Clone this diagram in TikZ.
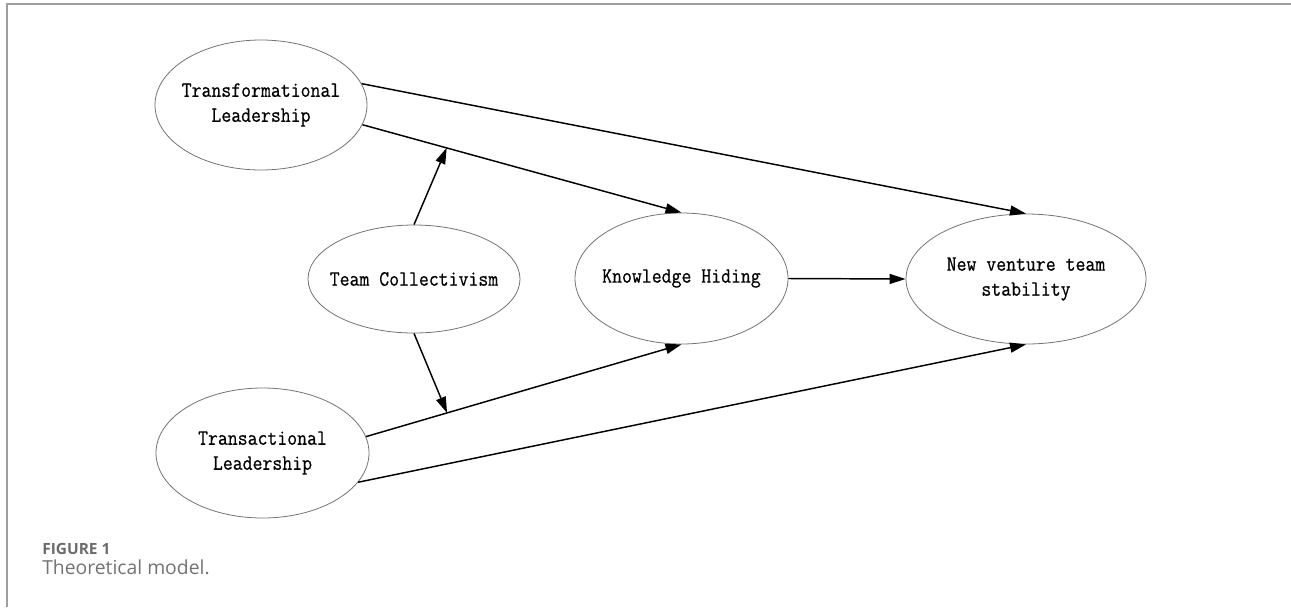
\documentclass[tikz,border=0pt]{standalone}
\usepackage{fontspec}
\setmainfont{Open Sans}
\newfontfamily\monofont[FakeStretch=0.88,FakeBold=0.6]{Latin Modern Mono}
\usetikzlibrary{arrows.meta,shapes.geometric}
\begin{document}
\begin{tikzpicture}[x=0.75pt,y=-0.75pt,
  oval/.style={ellipse, draw=black!55, line width=0.6pt, inner sep=0pt},
  conn/.style={line width=1.1pt, -{Triangle[length=12pt,width=7.5pt]}},
  txt/.style={align=center, inner sep=0pt, font=\monofont\fontsize{16.4}{18.75}\selectfont}]
\useasboundingbox (0,0) rectangle (1291,607);
\draw[black!38, line width=1.1pt] (7,607) -- (7,4) -- (1291,4);

\node[oval, minimum width=159pt, minimum height=97.5pt,
      label={[txt]center:Transformational\\Leadership}] (tl) at (261,105) {};
\node[oval, minimum width=159pt, minimum height=81pt,
      label={[txt]center:Team Collectivism}] (tc) at (414,279) {};
\node[oval, minimum width=159.75pt, minimum height=98.25pt,
      label={[txt]center:Knowledge Hiding}] (kh) at (681.5,278.5) {};
\node[oval, minimum width=180pt, minimum height=97.5pt,
      label={[txt]center:New venture team\\stability}] (nvts) at (1026,279) {};
\node[oval, minimum width=159.75pt, minimum height=97.5pt,
      label={[txt]center:Transactional\\Leadership}] (trl) at (262.5,453) {};

\draw[conn] (tl.12.4) -- (nvts.north);
\draw[conn] (tl.-11.6) -- coordinate[pos=0.264] (m1) (kh.north);
\draw[conn] (tc.north) -- (m1);
\draw[conn] (trl.9.3) -- coordinate[pos=0.257] (m2) (kh.south);
\draw[conn] (tc.south) -- (m2);
\draw[conn] (trl.-17.4) -- (nvts.south);
\draw[conn] (kh.east) -- (nvts.west);

\node[anchor=base west, inner sep=0pt, text=black!58,
      font=\bfseries\fontsize{11.6}{13}\selectfont] (fig) at (42,554) {FIGURE 1};
\node[anchor=base west, inner sep=0pt, text=black!55,
      font=\fontsize{14.5}{17}\selectfont] (cap) at (42,574) {Theoretical model.};
\end{tikzpicture}
\end{document}
